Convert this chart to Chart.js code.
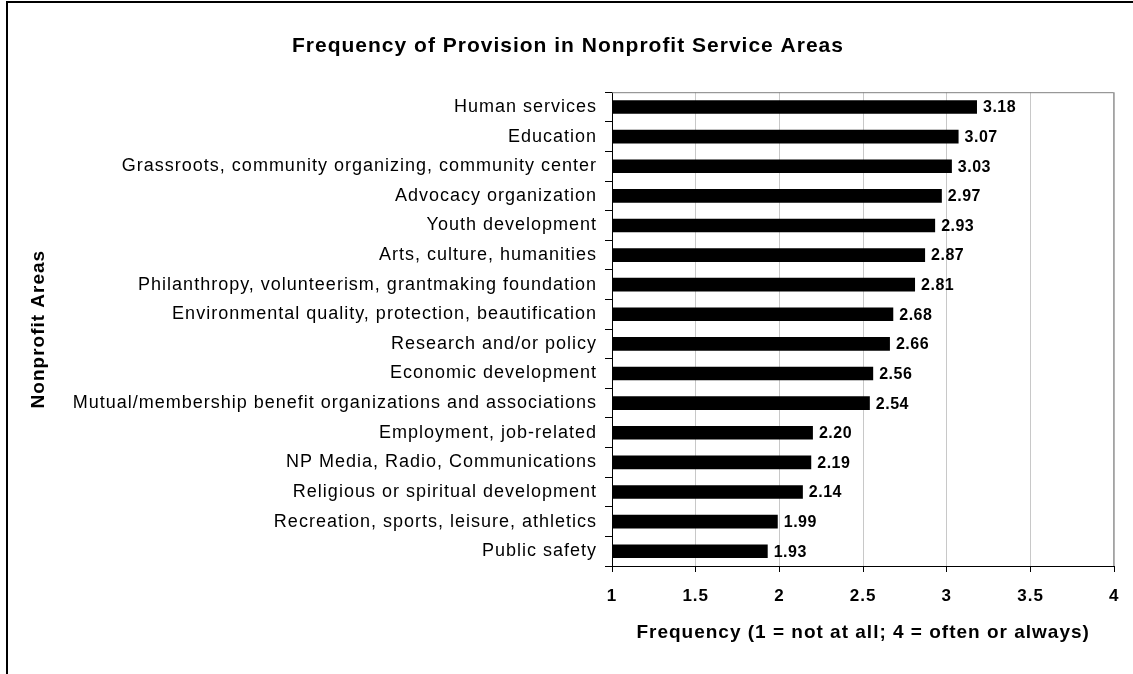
<!DOCTYPE html>
<html>
<head>
<meta charset="utf-8">
<script src="https://cdn.jsdelivr.net/npm/chart.js@4"></script>
<style>
html,body{margin:0;padding:0;background:#fff;}
#wrap{width:1133px;height:674px;position:relative;}
</style>
</head>
<body>
<div id="wrap"><canvas id="c" width="1133" height="674"></canvas></div>
<script>
const categories = [
  "Human services",
  "Education",
  "Grassroots, community organizing, community center",
  "Advocacy organization",
  "Youth development",
  "Arts, culture, humanities",
  "Philanthropy, volunteerism, grantmaking foundation",
  "Environmental quality, protection, beautification",
  "Research and/or policy",
  "Economic development",
  "Mutual/membership benefit organizations and associations",
  "Employment, job-related",
  "NP Media, Radio, Communications",
  "Religious or spiritual development",
  "Recreation, sports, leisure, athletics",
  "Public safety"
];
const frequency = [3.18, 3.07, 3.03, 2.97, 2.93, 2.87, 2.81, 2.68, 2.66, 2.56, 2.54, 2.20, 2.19, 2.14, 1.99, 1.93];
const xTicks = [1, 1.5, 2, 2.5, 3, 3.5, 4];
const chartTitle = "Frequency of Provision in Nonprofit Service Areas";
const xTitle = "Frequency (1 = not at all; 4 = often or always)";
const yTitle = "Nonprofit Areas";

const FONT = "'Liberation Sans', Arial, sans-serif";

const framePlugin = {
  id: 'frame',
  beforeDraw(chart) {
    const ctx = chart.ctx;
    ctx.save();
    ctx.fillStyle = '#fff';
    ctx.fillRect(0, 0, chart.width, chart.height);
    ctx.strokeStyle = '#000';
    ctx.lineWidth = 2;
    ctx.beginPath();
    ctx.moveTo(7, chart.height + 5);
    ctx.lineTo(7, 2);
    ctx.lineTo(chart.width + 5, 2);
    ctx.stroke();
    ctx.restore();
    ctx.letterSpacing = '1px';
  },
  afterDatasetsDraw(chart) {
    const ctx = chart.ctx;
    const a = chart.chartArea;
    ctx.save();
    ctx.strokeStyle = '#808080';
    ctx.lineWidth = 1;
    ctx.beginPath();
    ctx.moveTo(a.left, a.top + 0.5);
    ctx.lineTo(a.right - 0.5, a.top + 0.5);
    ctx.lineTo(a.right - 0.5, a.bottom);
    ctx.stroke();
    // data labels
    const meta = chart.getDatasetMeta(0);
    ctx.fillStyle = '#000';
    ctx.letterSpacing = '0.5px';
    ctx.font = "bold 16px " + FONT;
    ctx.textAlign = 'left';
    ctx.textBaseline = 'middle';
    meta.data.forEach((bar, i) => {
      ctx.fillText(frequency[i].toFixed(2), bar.x + 6, bar.y + 1);
    });
    ctx.restore();
  }
};

new Chart(document.getElementById('c'), {
  type: 'bar',
  data: {
    labels: categories,
    datasets: [{
      data: frequency,
      backgroundColor: '#000',
      borderColor: '#000',
      borderWidth: 0,
      barPercentage: 0.46,
      categoryPercentage: 1.0
    }]
  },
  options: {
    indexAxis: 'y',
    responsive: false,
    animation: false,
    devicePixelRatio: 1,
    layout: { padding: { left: 20, right: 17, top: 0, bottom: 0 } },
    plugins: {
      legend: { display: false },
      tooltip: { enabled: false },
      title: {
        display: true,
        text: chartTitle,
        color: '#000',
        font: { family: FONT, size: 21, weight: 'bold' },
        padding: { top: 34, bottom: 33 }
      }
    },
    scales: {
      x: {
        type: 'linear',
        min: 1,
        max: 4,
        afterBuildTicks(scale) { scale.ticks = xTicks.map(v => ({ value: v })); },
        afterFit(scale) { scale.height = 108; },
        grid: {
          color: '#c8c8c8',
          lineWidth: 1,
          drawTicks: true,
          tickLength: 6,
          tickColor: '#000'
        },
        border: { display: true, color: '#000', width: 1 },
        ticks: {
          color: '#000',
          font: { family: FONT, size: 17, weight: 'bold' },
          padding: 14,
          callback: (v) => String(v)
        },
        title: {
          display: true,
          text: xTitle,
          color: '#000',
          font: { family: FONT, size: 19, weight: 'bold' },
          padding: { top: 0, bottom: 30 }
        }
      },
      y: {
        afterFit(scale) { scale.width = 592; },
        grid: {
          offset: true,
          drawOnChartArea: false,
          drawTicks: true,
          tickLength: 7,
          tickColor: '#000'
        },
        border: { display: true, color: '#000', width: 1 },
        ticks: {
          color: '#000',
          font: { family: FONT, size: 18 },
          padding: 8
        },
        title: {
          display: true,
          text: yTitle,
          color: '#000',
          font: { family: FONT, size: 19, weight: 'bold' },
          padding: { top: 7 }
        }
      }
    }
  },
  plugins: [framePlugin]
});
</script>
</body>
</html>
